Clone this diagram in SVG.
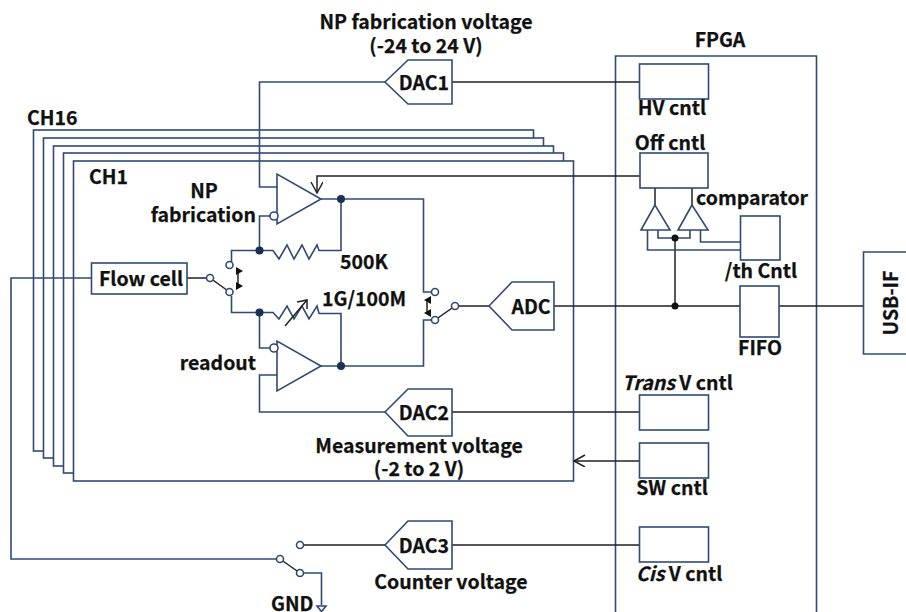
<svg xmlns="http://www.w3.org/2000/svg" width="906" height="612" viewBox="0 0 906 612">
<style>
text{font-family:"Noto Sans CJK JP","Noto Sans",sans-serif;font-weight:700;font-size:19.5px;fill:#111;stroke:#111;stroke-width:.25}
.m{text-anchor:middle}
.b{fill:#fff;stroke:#2f4a75;stroke-width:1.6}
.n{fill:none;stroke:#2f4a75;stroke-width:1.6}
.k{fill:none;stroke:#222;stroke-width:1.5}
.t{fill:#fff;stroke:#2f4a75;stroke-width:1.6}
.dn{fill:#1c2f55}
.dk{fill:#111}
</style>
<defs>
<marker id="open" markerWidth="14" markerHeight="14" refX="12" refY="6" orient="auto" markerUnits="userSpaceOnUse"><path d="M1 0L12 6L1 12" fill="none" stroke="#222" stroke-width="1.5"/></marker>
</defs>
<rect width="906" height="612" fill="#fff"/>
<g id="ch16"><rect class="b" x="33.500" y="130" width="500" height="321"/><text x="27" y="125">CH16</text></g>
<g id="ch15"><rect class="b" x="43.500" y="138" width="500" height="320"/></g>
<g id="ch14"><rect class="b" x="53.500" y="146" width="500" height="320"/></g>
<g id="ch13"><rect class="b" x="63.500" y="153" width="500" height="320"/></g>
<g id="ch1"><rect class="b" x="73.500" y="161" width="500" height="320"/><text x="89" y="184">CH1</text></g>
<g id="fpga"><path class="n" d="M615.500 612V56H816.500V612"/><text class="m" x="720" y="47">FPGA</text></g>
<g id="connectors">
<path class="n" d="M385 82H259.500V187H277"/>
<path class="k" d="M452 82H639"/>
<path class="k" d="M640 176H317V193" marker-end="url(#open)"/>
<path class="n" d="M321 199H423.500V292H431"/>
<path class="n" d="M431 320H423.500V366H321"/>
<path class="n" d="M341 199V250.500H319L317 245L309 259L302 245L294 259L287 245L279 259L273 250.500H231.500V262"/>
<path class="n" d="M270 216H259.500V250.500"/>
<path class="n" d="M231.500 296V312.500H273L279 319L287 306L294 319L302 306L309 319L317 306L319 313.500H341V366"/>
<path class="n" d="M259.500 312V348H270"/>
<path class="k" d="M285 326L307 300"/>
<path class="k" d="M297 302L307 300L307 309"/>
<path class="k" d="M187 278H210L229.500 292"/>
<path class="k" d="M238 271V284"/>
<path class="k" d="M427 300V313"/>
<path class="k" d="M489 306H455L435 320"/>
<path class="k" d="M554 306H740M779 306H863"/>
<path class="k" d="M675 238V306" stroke-width="2"/>
<path class="k" d="M655 188V205M692 188V205"/>
<path class="n" d="M658 230V238H690V230"/>
<path class="n" d="M647.500 230V250H740"/>
<path class="n" d="M700.500 230V242H740"/>
<path class="n" d="M385 412H259.500V375H277"/>
<path class="k" d="M452 412H639"/>
<path class="k" d="M639 461H574" marker-end="url(#open)"/>
<path class="k" d="M452 545H639M385 545H300"/>
<path class="k" d="M280 559L300 573"/>
<path class="n" d="M91 278H11V559H280"/>
<path class="n" d="M304 573H321.500V605"/>
<polygon class="t" points="317,606 326,606 321.500,611.500"/>
<circle class="dn" cx="259.500" cy="250.500" r="4"/>
<circle class="dn" cx="341" cy="199" r="4"/>
<circle class="dn" cx="259.500" cy="312.500" r="4"/>
<circle class="dn" cx="341" cy="366" r="4"/>
<circle class="dk" cx="675" cy="238" r="3.500"/>
<circle class="dk" cx="675" cy="306" r="3.500"/>
<polygon class="dk" points="236,267 243,271 236,275"/>
<polygon class="dk" points="236,282 243,286 236,290"/>
<polygon class="dk" points="431,296 424,300 431,304"/>
<polygon class="dk" points="431,309 424,313 431,317"/>
<circle class="t" cx="229.500" cy="265" r="3.500"/>
<circle class="t" cx="229.500" cy="292" r="3.500"/>
<circle class="t" cx="210" cy="278" r="3.500"/>
<circle class="t" cx="435" cy="292" r="3.500"/>
<circle class="t" cx="435" cy="320" r="3.500"/>
<circle class="t" cx="455" cy="306" r="3.500"/>
<circle class="t" cx="300" cy="545" r="3.500"/>
<circle class="t" cx="280" cy="559" r="3.500"/>
<circle class="t" cx="300" cy="573" r="3.500"/>
</g>
<g id="amp-fab"><polygon class="t" points="277,174 277,224 321,199"/><circle class="t" cx="274" cy="216" r="4"/></g>
<g id="amp-read"><polygon class="t" points="277,341 277,391 321,366"/><circle class="t" cx="274" cy="348" r="4"/></g>
<g id="dac1"><polygon class="t" points="385,82 408,60 452,60 452,104 408,104"/><text class="m" x="424" y="90">DAC1</text></g>
<g id="dac2"><polygon class="t" points="385,412 408,389 452,389 452,436 408,436"/><text class="m" x="424" y="420">DAC2</text></g>
<g id="dac3"><polygon class="t" points="385,545 408,521 452,521 452,569 408,569"/><text class="m" x="424" y="553">DAC3</text></g>
<g id="adc"><polygon class="t" points="489,306 512,282 554,282 554,330 512,330"/><text class="m" x="531" y="314">ADC</text></g>
<g id="flow-cell"><rect class="b" x="91.500" y="263" width="95.500" height="31"/><text class="m" x="141" y="286">Flow cell</text></g>
<g id="hv"><rect class="b" x="639.500" y="64" width="69" height="35"/><text class="m" x="672" y="115">HV cntl</text></g>
<g id="off"><rect class="b" x="640" y="153" width="68" height="35"/><text class="m" x="670" y="150">Off cntl</text></g>
<g id="cmp1"><polygon class="t" points="655,205 641,230 670,230"/></g>
<g id="cmp2"><polygon class="t" points="692,205 678,230 708,230"/></g>
<g id="th"><rect class="b" x="740.500" y="216" width="39.500" height="44"/><text class="m" x="761" y="278">/th Cntl</text></g>
<g id="fifo"><rect class="b" x="740" y="286" width="39" height="51"/><text class="m" x="760" y="355">FIFO</text></g>
<g id="trans"><rect class="b" x="639.500" y="395" width="69" height="35"/><text x="622" y="390"><tspan font-style="italic">Trans</tspan> V cntl</text></g>
<g id="sw"><rect class="b" x="639.500" y="443" width="69" height="35"/><text class="m" x="672" y="495">SW cntl</text></g>
<g id="cis"><rect class="b" x="639.500" y="527" width="69" height="35"/><text x="636" y="581"><tspan font-style="italic">Cis</tspan> V cntl</text></g>
<g id="usb"><path class="b" d="M906 252H863.500V354H906"/><text class="m" transform="translate(898 303) rotate(-90)">USB-IF</text></g>
<g id="labels">
<text class="m" x="426" y="29">NP fabrication voltage</text>
<text class="m" x="426" y="53">(-24 to 24 V)</text>
<text class="m" x="204" y="198">NP</text>
<text x="256" y="222" text-anchor="end">fabrication</text>
<text x="340" y="269">500K</text>
<text x="322" y="306">1G/100M</text>
<text x="256" y="370" text-anchor="end">readout</text>
<text x="696" y="205">comparator</text>
<text class="m" x="419" y="453">Measurement voltage</text>
<text class="m" x="419" y="476">(-2 to 2 V)</text>
<text class="m" x="451" y="589">Counter voltage</text>
<text x="271" y="611">GND</text>
</g>
</svg>
